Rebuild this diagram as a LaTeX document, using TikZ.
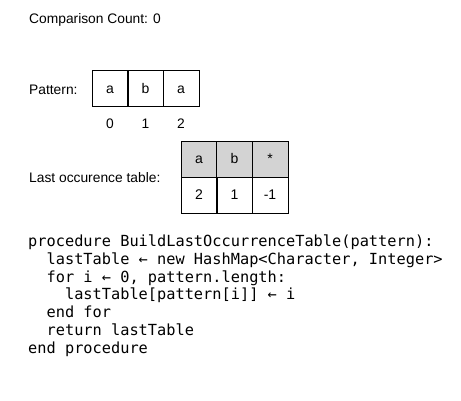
\documentclass[tikz,border=0pt]{standalone}
\usepackage{fontspec}
\setmainfont{Liberation Sans}
\setmonofont{DejaVu Sans Mono}
\usepackage{tikz}
\usetikzlibrary{positioning}
\definecolor{headgray}{HTML}{D3D3D3}

\begin{document}
\begin{tikzpicture}[x=1pt,y=-1pt,
  lbl/.style={anchor=base west,inner sep=0pt,font=\fontsize{13.8}{16}\selectfont},
  cell/.style={rectangle,draw,line width=0.9pt,minimum width=36pt,
    minimum height=36pt,inner sep=0pt,text height=9.6pt,text depth=0pt,
    font=\fontsize{14}{16}\selectfont},
  idx/.style={inner sep=0pt,font=\fontsize{13.8}{16}\selectfont},
  code/.style={anchor=north west,inner sep=0pt,align=left,
    font=\fontsize{15.3}{17.8}\selectfont\ttfamily}
]
\useasboundingbox (0,0) rectangle (461,400);

% Comparison counter
\node[lbl] (count) at (29,23) {Comparison Count: 0};

% Pattern
\node[lbl] (patlbl) at (29,94) {Pattern:};
\node[cell] (p0) at (110,88.5)   {a};
\node[cell] (p1) at (145.5,88.5) {b};
\node[cell] (p2) at (181,88.5)   {a};
\node[idx]  (i0) at (110,124)    {0};
\node[idx]  (i1) at (145.5,124)  {1};
\node[idx]  (i2) at (181,124)    {2};

% Last occurrence table
\node[lbl] (tablbl) at (29,182) {Last occurence table:};
\node[cell,fill=headgray] (ha) at (199,159)   {a};
\node[cell,fill=headgray] (hb) at (234.5,159) {b};
\node[cell,fill=headgray] (hs) at (270,159)   {*};
\node[cell] (va) at (199,195)   {2};
\node[cell] (vb) at (234.5,195) {1};
\node[cell] (vs) at (270,195)   {-1};

% Pseudocode
\node[code] (algo) at (28,234.5) {%
procedure BuildLastOccurrenceTable(pattern):\\
\ \ lastTable ← new HashMap<Character, Integer>\\
\ \ for i ← 0, pattern.length:\\
\ \ \ \ lastTable[pattern[i]] ← i\\
\ \ end for\\
\ \ return lastTable\\
end procedure};
\end{tikzpicture}
\end{document}
